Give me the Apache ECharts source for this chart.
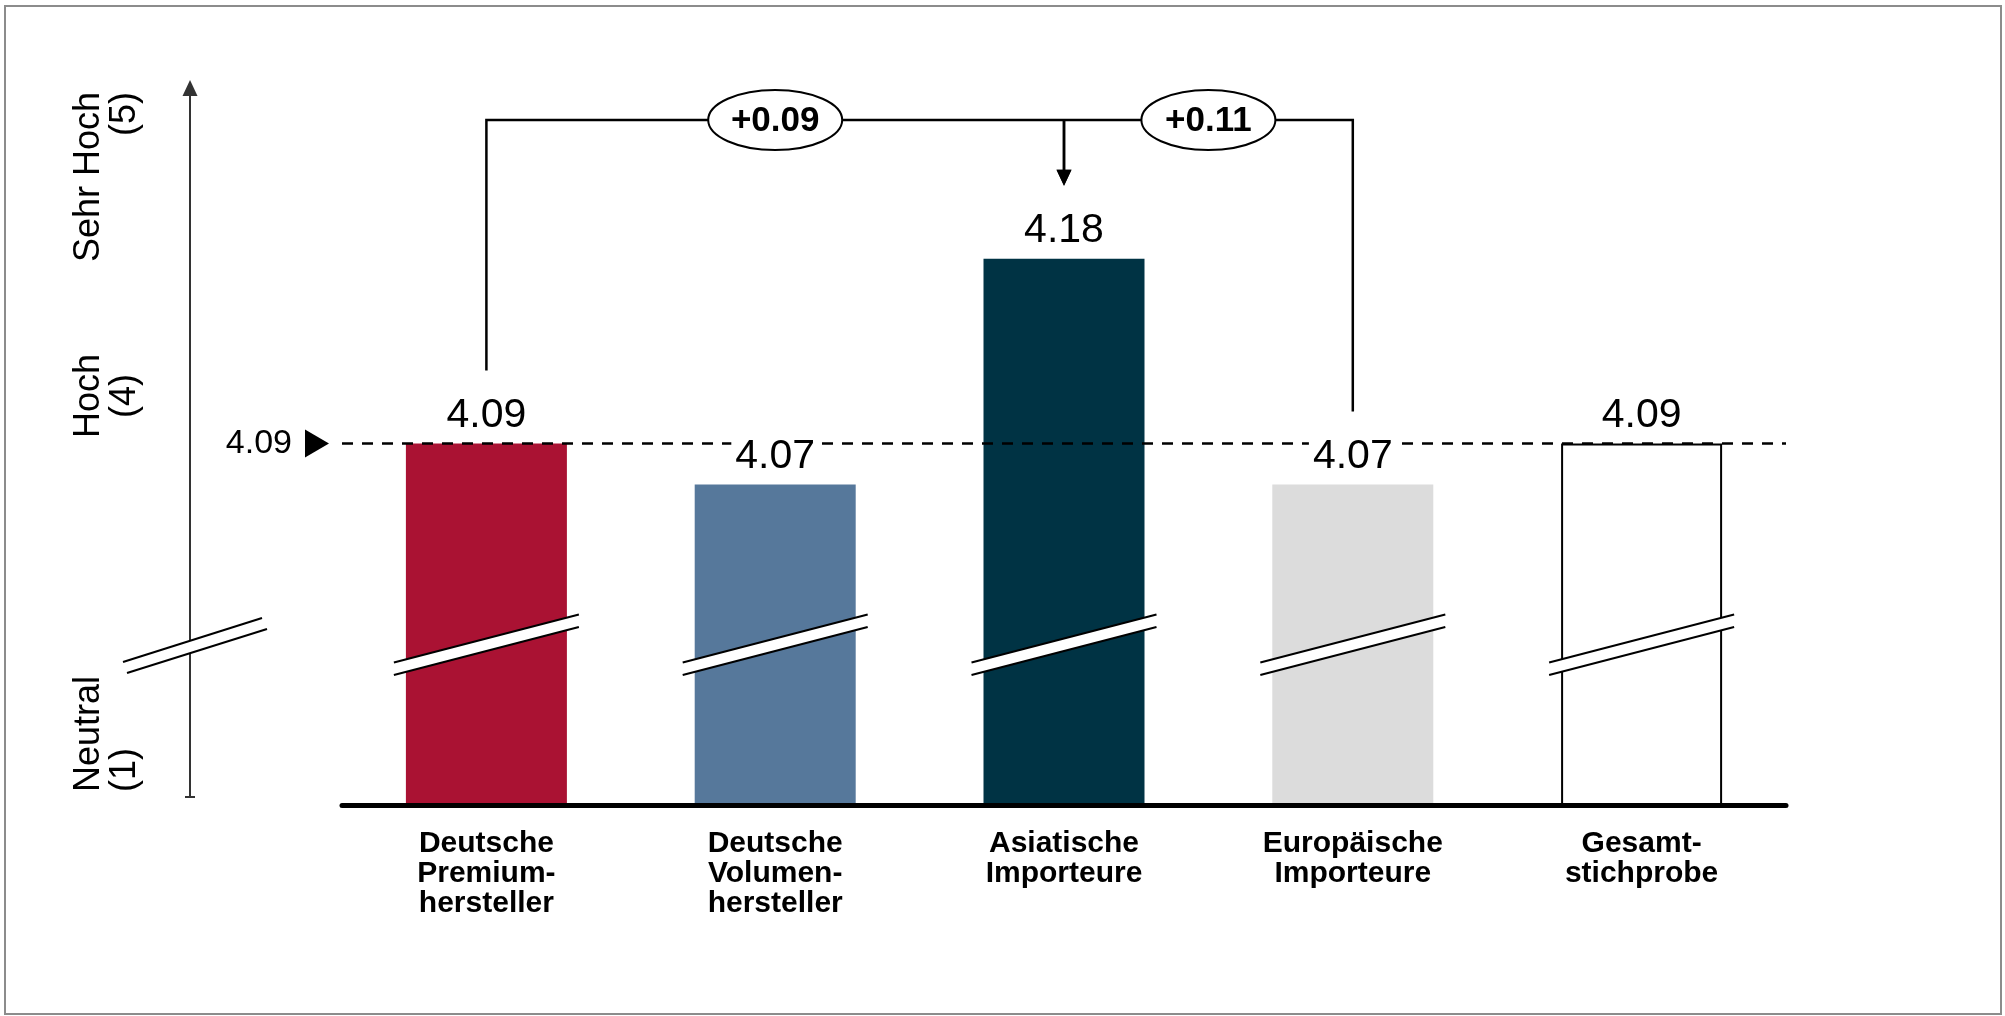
<!DOCTYPE html>
<html lang="de">
<head>
<meta charset="utf-8">
<title>Bewertung nach Herstellergruppe</title>
<script src="https://cdn.jsdelivr.net/npm/echarts@6/dist/echarts.min.js"></script>
<style>
  html, body { margin: 0; padding: 0; background: #fff; }
  #chart { width: 2005px; height: 1016px; }
</style>
</head>
<body>
<div id="chart"></div>
<script>
// ---- data ----
const categories = [
  'Deutsche\nPremium-\nhersteller',
  'Deutsche\nVolumen-\nhersteller',
  'Asiatische\nImporteure',
  'Europäische\nImporteure',
  'Gesamt-\nstichprobe'
];
const values = [4.09, 4.07, 4.18, 4.07, 4.09];
// reference level = Gesamtstichprobe
const referenceValue = values[4];
// comparisons drawn as brackets: [from index, to index]
const comparisons = [[0, 2], [3, 2]];
// schematic scale labels on the left arrow axis
const scaleLabels = ['Neutral\n(1)', 'Hoch\n(4)', 'Sehr Hoch\n(5)'];

// ---- styling ----
const FONT = "'Liberation Sans', Arial, Helvetica, sans-serif";
const barColors = ['#AA1233', '#56789B', '#003344', '#DCDCDC', '#FFFFFF'];
const barOutlines = [null, null, null, null, '#000000'];
const BAR_WIDTH = 161;
const Y_MIN = 3.914, Y_MAX = 4.267;   // truncated value axis (break drawn on bars)
const BREAK_AT = 3.992;

const chart = echarts.init(document.getElementById('chart'), null, { renderer: 'canvas' });

// axis break mark across each bar
function renderBreak(params, api) {
  const p = api.coord([api.value(0), api.value(1)]);
  const half = BAR_WIDTH / 2 + 12;
  const rise = 24, gap = 6.25;
  const a1 = [p[0] - half, p[1] + rise - gap], b1 = [p[0] + half, p[1] - rise - gap];
  const a2 = [p[0] - half, p[1] + rise + gap], b2 = [p[0] + half, p[1] - rise + gap];
  return {
    type: 'group',
    children: [
      { type: 'polygon', shape: { points: [a1, b1, b2, a2] }, style: { fill: '#fff' } },
      { type: 'line', shape: { x1: a1[0], y1: a1[1], x2: b1[0], y2: b1[1] }, style: { stroke: '#000', lineWidth: 2 } },
      { type: 'line', shape: { x1: a2[0], y1: a2[1], x2: b2[0], y2: b2[1] }, style: { stroke: '#000', lineWidth: 2 } }
    ]
  };
}

// difference brackets with labelled ellipse and arrow towards the target bar
function renderBracket(params, api) {
  const from = api.value(0), to = api.value(1);
  const yTop = api.coord([0, Y_MAX])[1] + 40;
  const pf = api.coord([from, values[from]]);
  const pt = api.coord([to, values[to]]);
  const legEnd = pf[1] - 73;
  const tip = pt[1] - 73;
  const midX = (pf[0] + pt[0]) / 2;
  const diff = values[to] - values[from];
  const text = (diff >= 0 ? '+' : '') + diff.toFixed(2);
  return {
    type: 'group',
    children: [
      { type: 'polyline', shape: { points: [[pf[0], legEnd], [pf[0], yTop], [pt[0], yTop]] },
        style: { stroke: '#000', lineWidth: 2.5, fill: null } },
      { type: 'line', shape: { x1: pt[0], y1: yTop, x2: pt[0], y2: tip - 15 },
        style: { stroke: '#000', lineWidth: 2.5 } },
      { type: 'polygon', shape: { points: [[pt[0] - 7.5, tip - 16], [pt[0] + 7.5, tip - 16], [pt[0], tip]] },
        style: { fill: '#000' } },
      { type: 'ellipse', shape: { cx: midX, cy: yTop, rx: 67, ry: 30 },
        style: { fill: '#fff', stroke: '#000', lineWidth: 2 } },
      { type: 'text', x: midX, y: yTop + 1,
        style: { text: text, fontSize: 35, fontWeight: 'bold', fontFamily: FONT, fill: '#000',
                 align: 'center', verticalAlign: 'middle' } }
    ]
  };
}

// the schematic arrow axis on the left with its break and labels
const leftAxis = [
  { type: 'rect', shape: { x: 5, y: 6, width: 1996, height: 1008 },
    style: { fill: null, stroke: '#8c8c8c', lineWidth: 2 }, z: 0 },
  { type: 'line', shape: { x1: 190, y1: 94, x2: 190, y2: 797 }, style: { stroke: '#333', lineWidth: 2 } },
  { type: 'polygon', shape: { points: [[190, 80], [182.5, 96], [197.5, 96]] }, style: { fill: '#333' } },
  { type: 'line', shape: { x1: 185, y1: 797, x2: 195, y2: 797 }, style: { stroke: '#333', lineWidth: 2 } },
  { type: 'polygon', shape: { points: [[123, 662], [262, 618], [267, 629], [127, 673]] }, style: { fill: '#fff' } },
  { type: 'line', shape: { x1: 123, y1: 662, x2: 262, y2: 618 }, style: { stroke: '#000', lineWidth: 2 } },
  { type: 'line', shape: { x1: 127, y1: 673, x2: 267, y2: 629 }, style: { stroke: '#000', lineWidth: 2 } },
  { type: 'text', x: 71, y: 792, rotation: Math.PI / 2,
    style: { text: scaleLabels[0], fontSize: 36, fontFamily: FONT, fill: '#000', align: 'left', verticalAlign: 'top', lineHeight: 36 } },
  { type: 'text', x: 71, y: 396, rotation: Math.PI / 2,
    style: { text: scaleLabels[1], fontSize: 36, fontFamily: FONT, fill: '#000', align: 'center', verticalAlign: 'top', lineHeight: 36 } },
  { type: 'text', x: 71, y: 92, rotation: Math.PI / 2,
    style: { text: scaleLabels[2], fontSize: 36, fontFamily: FONT, fill: '#000', align: 'right', verticalAlign: 'top', lineHeight: 36 } }
];

// triangle pointer in front of the reference line
function renderPointer(params, api) {
  const y = api.coord([0, api.value(1)])[1];
  const x0 = params.coordSys.x;
  return { type: 'polygon', shape: { points: [[x0 - 37, y - 14], [x0 - 37, y + 14], [x0 - 13, y]] }, style: { fill: '#000' } };
}

const option = {
  animation: false,
  backgroundColor: '#fff',
  textStyle: { fontFamily: FONT },
  grid: { left: 342, right: 219, top: 80, bottom: 211, containLabel: false, outerBoundsMode: 'none' },
  xAxis: {
    type: 'category',
    data: categories,
    z: 3,
    axisLine: { show: true, lineStyle: { color: '#000', width: 5, cap: 'round' } },
    axisTick: { show: false },
    axisLabel: { interval: 0, margin: 24, fontSize: 30, fontWeight: 'bold', lineHeight: 30,
                 color: '#000', fontFamily: FONT }
  },
  yAxis: { type: 'value', min: Y_MIN, max: Y_MAX, show: false },
  graphic: leftAxis,
  series: [
    {
      type: 'bar',
      name: 'Werte',
      z: 2,
      barWidth: BAR_WIDTH,
      silent: true,
      data: values.map((v, i) => ({
        value: v,
        itemStyle: { color: barColors[i], borderColor: barOutlines[i] || barColors[i], borderWidth: barOutlines[i] ? 2 : 0 }
      })),
      markLine: {
        z: 4,
        silent: true,
        symbol: ['none', 'none'],
        lineStyle: { color: '#000', width: 2.5, type: [11, 9] },
        label: { show: true, position: 'start', distance: 50, fontSize: 34, color: '#000', fontFamily: FONT,
                 formatter: p => Number(p.value).toFixed(2) },
        data: [{ yAxis: referenceValue }]
      }
    },
    {
      type: 'custom',
      name: 'Achsenbruch',
      z: 3,
      silent: true,
      renderItem: renderBreak,
      encode: { x: 0, y: 1 },
      data: values.map((v, i) => [i, BREAK_AT])
    },
    {
      type: 'bar',
      name: 'Beschriftung',
      z: 5,
      barWidth: BAR_WIDTH,
      barGap: '-100%',
      silent: true,
      itemStyle: { color: 'rgba(0,0,0,0)' },
      label: { show: true, position: 'top', distance: 7, fontSize: 41, color: '#000', fontFamily: FONT,
               backgroundColor: '#fff', padding: [0, 4], formatter: p => p.value.toFixed(2) },
      data: values.slice()
    },
    {
      type: 'custom',
      name: 'Marker',
      z: 6,
      silent: true,
      renderItem: renderPointer,
      encode: { x: 0, y: 1 },
      data: [[0, referenceValue]]
    },
    {
      type: 'custom',
      name: 'Differenzen',
      z: 6,
      silent: true,
      renderItem: renderBracket,
      encode: { x: 0, y: 2 },
      data: comparisons.map(c => [c[0], c[1], values[c[0]]])
    }
  ]
};

chart.setOption(option);
</script>
</body>
</html>
